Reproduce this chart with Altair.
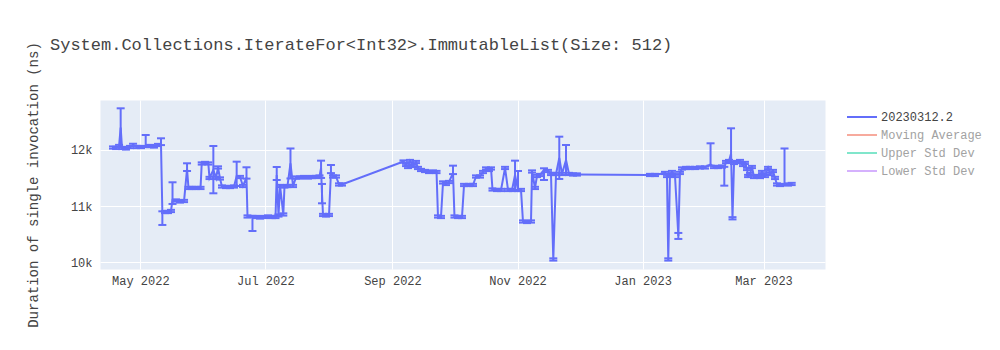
import altair as alt
import pandas as pd

# ---------------- data ----------------
dates_a = ["2022-04-17T16:00","2022-04-19T04:00","2022-04-20T15:00","2022-04-21T10:00","2022-04-22T02:00",
           "2022-04-24T00:00","2022-04-25T23:00","2022-04-27T11:00","2022-04-29T09:00","2022-05-01T08:00",
           "2022-05-03T15:00","2022-05-05T18:00","2022-05-07T16:00","2022-05-09T15:00","2022-05-11T02:00",
           "2022-05-11T18:00","2022-05-13T01:00","2022-05-14T12:00","2022-05-15T23:00"]
values_a = [12044,12036,12071,12397,12036,12027,12053,12089,12053,12053,12071,12071,12062,12089,12107,
            10888,10896,10896,10914]
up_a = [20,20,20,345,20,20,20,20,20,20,196,20,20,20,101,20,20,20,20]
down_a = [20,20,20,344,20,20,20,20,20,20,20,20,20,20,20,223,20,20,20]

dates_b = ["2022-05-16T17:00","2022-05-18T10:00","2022-05-20T09:00","2022-05-22T08:00","2022-05-23T19:00",
           "2022-05-24T12:00","2022-05-26T05:00","2022-05-28T04:00","2022-05-30T09:00","2022-05-30T23:00",
           "2022-06-01T13:00","2022-06-03T04:00","2022-06-03T18:00","2022-06-05T15:00","2022-06-06T22:00",
           "2022-06-07T22:00","2022-06-08T21:00","2022-06-09T20:00","2022-06-11T19:00","2022-06-13T18:00",
           "2022-06-15T17:00","2022-06-17T00:00","2022-06-18T15:00","2022-06-20T02:00","2022-06-21T19:00",
           "2022-06-22T07:00","2022-06-24T17:00"]
values_b = [11110,11101,11083,11092,11662,11324,11324,11324,11324,11760,11769,11760,11502,11644,11502,
            11689,11493,11350,11341,11341,11350,11537,11519,11359,11510,10816,10807]
up_b = [315,20,20,20,101,20,20,20,20,20,20,20,20,427,20,20,20,20,20,20,20,255,20,20,182,20,20]
down_b = [71,20,20,20,36,20,20,20,20,20,20,20,20,415,20,20,20,20,20,20,20,178,20,20,20,20,249]

dates_c = ["2022-06-26T11:00","2022-06-28T09:00","2022-06-30T08:00","2022-07-02T07:00","2022-07-04T06:00",
           "2022-07-05T23:00","2022-07-06T13:00","2022-07-07T10:00","2022-07-08T04:00","2022-07-09T18:00",
           "2022-07-10T08:00","2022-07-11T19:00","2022-07-13T06:00","2022-07-14T12:00","2022-07-15T23:00",
           "2022-07-17T22:00","2022-07-19T20:00","2022-07-21T19:00","2022-07-23T18:00","2022-07-25T17:00",
           "2022-07-27T10:00","2022-07-28T04:00","2022-07-28T15:00","2022-07-29T03:00","2022-07-30T14:00",
           "2022-08-01T01:00","2022-08-02T00:00","2022-08-03T00:00","2022-08-04T11:00","2022-08-05T22:00",
           "2022-08-07T09:00"]
values_c = [10807,10798,10807,10816,10807,10807,11555,10834,11359,10852,11350,11359,11760,11359,11510,
            11510,11519,11510,11519,11519,11528,11680,11222,10843,10834,10843,11608,11528,11528,11386,11386]
up_c = [20,20,20,20,20,20,142,20,20,20,20,20,267,20,20,20,20,20,20,20,20,130,173,20,20,20,125,20,20,20,20]
down_c = [20,20,20,20,20,20,89,20,20,20,20,20,267,20,20,20,20,20,20,20,20,178,171,20,20,20,20,20,20,20,20]

dates_d = ["2022-09-06T09:00","2022-09-07T15:00","2022-09-08T14:00","2022-09-09T13:00","2022-09-11T00:00",
           "2022-09-12T12:00","2022-09-13T11:00","2022-09-14T22:00","2022-09-16T21:00","2022-09-18T20:00",
           "2022-09-20T19:00","2022-09-22T12:00","2022-09-23T05:00","2022-09-24T16:00","2022-09-25T16:00",
           "2022-09-27T03:00","2022-09-28T14:00","2022-09-30T13:00","2022-10-01T06:00","2022-10-02T23:00",
           "2022-10-04T22:00","2022-10-05T22:00","2022-10-08T08:00","2022-10-10T07:00","2022-10-11T18:00",
           "2022-10-13T17:00","2022-10-15T04:00","2022-10-16T15:00","2022-10-18T02:00","2022-10-19T02:00",
           "2022-10-19T19:00","2022-10-22T00:00","2022-10-23T23:00","2022-10-25T22:00","2022-10-27T09:00",
           "2022-10-29T08:00","2022-10-30T19:00","2022-11-01T06:00","2022-11-02T17:00","2022-11-03T16:00",
           "2022-11-05T15:00","2022-11-07T14:00","2022-11-08T02:00","2022-11-09T13:00","2022-11-10T12:00",
           "2022-11-11T23:00","2022-11-13T22:00","2022-11-15T21:00","2022-11-17T08:00","2022-11-18T11:00",
           "2022-11-19T19:00","2022-11-21T09:00","2022-11-22T17:00","2022-11-24T16:00","2022-11-26T03:00",
           "2022-11-28T02:00","2022-11-30T00:00"]
values_d = [11795,11733,11697,11804,11715,11786,11680,11644,11626,11608,11617,11608,10816,10807,11422,
            11395,11430,11591,10816,10807,10807,11377,11377,11377,11528,11528,11608,11671,11644,11671,
            11297,11288,11288,11680,11288,11288,11555,11288,11288,10727,10718,10727,11617,11324,11537,
            11555,11644,11626,11573,10051,11573,11858,11573,11822,11573,11564,11564]
up_d = [20,20,20,20,20,20,20,20,20,20,20,20,20,20,20,20,20,130,20,20,
        20,20,20,20,20,20,20,20,20,20,20,20,20,20,20,20,255,338,20,20,
        20,20,20,20,20,20,30,20,20,20,20,379,20,267,20,20,20]
down_d = [20,20,20,20,20,20,20,20,20,20,20,20,20,20,20,20,20,20,20,20,
          20,20,20,20,20,20,20,20,20,20,20,20,20,20,20,20,267,20,20,20,
          20,20,20,20,20,20,178,20,20,20,20,374,20,267,20,20,20]

dates_e = ["2023-01-04T15:00","2023-01-07T02:00","2023-01-11T23:00","2023-01-12T22:00","2023-01-13T13:00",
           "2023-01-14T09:00","2023-01-15T09:00","2023-01-16T20:00","2023-01-18T11:00","2023-01-19T06:00",
           "2023-01-20T06:00","2023-01-22T05:00","2023-01-24T04:00","2023-01-26T14:00","2023-01-29T00:00",
           "2023-01-31T11:00","2023-02-03T04:00","2023-02-04T20:00","2023-02-06T19:00","2023-02-08T18:00",
           "2023-02-09T21:00","2023-02-10T17:00","2023-02-12T04:00","2023-02-13T04:00","2023-02-13T21:00",
           "2023-02-14T15:00","2023-02-16T02:00","2023-02-17T13:00","2023-02-19T00:00","2023-02-19T23:00",
           "2023-02-20T23:00","2023-02-21T11:00","2023-02-22T10:00","2023-02-23T09:00","2023-02-24T09:00",
           "2023-02-25T20:00","2023-02-27T07:00","2023-02-28T06:00","2023-03-01T18:00","2023-03-03T05:00",
           "2023-03-04T04:00","2023-03-05T15:00","2023-03-06T15:00","2023-03-07T14:00","2023-03-09T01:00",
           "2023-03-11T06:00","2023-03-12T23:00","2023-03-14T18:00"]
values_e = [11555,11555,11591,11537,10051,11555,11608,11537,10469,11591,11671,11680,11680,11680,11689,
            11689,11742,11697,11697,11706,11680,11786,11804,11938,10784,11769,11786,11804,11733,11769,
            11662,11537,11573,11697,11519,11537,11519,11608,11537,11680,11573,11626,11502,11386,11377,
            11395,11386,11395]
up_e = [20,20,20,20,20,20,20,20,54,20,20,20,20,20,20,20,377,20,20,20,
        20,20,20,448,20,20,20,20,20,20,20,20,20,20,20,20,20,20,20,20,
        20,20,20,20,20,632,20,20]
down_e = [20,20,20,20,20,20,20,20,53,20,20,20,20,20,20,20,20,20,20,20,
          315,20,20,152,20,20,20,20,20,20,20,20,20,20,20,20,20,20,20,20,
          20,20,20,20,20,20,20,20]

series_names = ["20230312.2", "Moving Average", "Upper Std Dev", "Lower Std Dev"]
series_colors = ["#636efa", "#f7aa9d", "#80e6cb", "#d5b1fd"]
x_tick_dates = [(2022, 5), (2022, 7), (2022, 9), (2022, 11), (2023, 1), (2023, 3)]
y_ticks = [10000, 11000, 12000]
title_text = "System.Collections.IterateFor<Int32>.ImmutableList(Size: 512)"
y_title = "Duration of single invocation (ns)"

# ---------------- table ----------------
dates = dates_a + dates_b + dates_c + dates_d + dates_e
values = values_a + values_b + values_c + values_d + values_e
ups = up_a + up_b + up_c + up_d + up_e
downs = down_a + down_b + down_c + down_d + down_e
df = pd.DataFrame({
    "date": dates,
    "value": values,
    "hi": [v + u for v, u in zip(values, ups)],
    "lo": [v - d for v, d in zip(values, downs)],
    "series": [series_names[0]] * len(dates),
})

FONT = "Liberation Mono"
TXT = "#444444"
LINE = "#636efa"

x_scale = alt.Scale(domain=[alt.DateTime(year=2022, month=4, date=11, hours=8),
                            alt.DateTime(year=2023, month=3, date=31)], nice=False)
x_axis = alt.Axis(values=[alt.DateTime(year=y, month=m, date=1) for y, m in x_tick_dates],
                  format="%b %Y", labelFont=FONT, labelFontSize=12, labelColor=TXT,
                  grid=True, gridColor="white", gridWidth=1, domain=False, ticks=False,
                  labelPadding=6, labelFlush=False)
y_scale = alt.Scale(domain=[9881, 12890], nice=False, zero=False)
y_axis = alt.Axis(values=y_ticks, labelExpr="datum.value / 1000 + 'k'", labelFont=FONT,
                  labelFontSize=12, labelColor=TXT, grid=True, gridColor="white", gridWidth=1,
                  domain=False, ticks=False, labelPadding=8,
                  titleFont=FONT, titleFontSize=14, titleColor=TXT, titleFontWeight="normal",
                  titleX=-67, titleY=84.5, titleAlign="center", titleBaseline="middle", titleAngle=270)


def xe():
    return alt.X("date:T", title=None, scale=x_scale, axis=x_axis)


def ye(field):
    return alt.Y(f"{field}:Q", title=y_title, scale=y_scale, axis=y_axis)


base = alt.Chart(df)

line = base.mark_line(strokeWidth=2).encode(
    x=xe(), y=ye("value"),
    color=alt.Color("series:N",
                    scale=alt.Scale(domain=series_names, range=series_colors),
                    legend=alt.Legend(title=None, orient="none", legendX=756, legendY=11,
                                      symbolType="M-3,0H3", symbolSize=100, symbolStrokeWidth=2,
                                      labelFont=FONT, labelFontSize=12,
                                      labelColor=alt.ExprRef(expr="datum.label == '20230312.2' ? '#444444' : '#a2a2a2'"),
                                      labelOffset=13, rowPadding=6)),
)
bars = base.mark_rule(strokeWidth=2, color=LINE).encode(x=xe(), y=ye("lo"), y2=alt.Y2("hi"))
cap_hi = base.mark_tick(orient="horizontal", size=8, thickness=2, color=LINE, opacity=1).encode(x=xe(), y=ye("hi"))
cap_lo = base.mark_tick(orient="horizontal", size=8, thickness=2, color=LINE, opacity=1).encode(x=xe(), y=ye("lo"))

chart = alt.layer(bars, cap_hi, cap_lo, line).properties(
    width=725, height=169,
    autosize=alt.AutoSizeParams(type="none"),
    padding={"left": 100, "top": 100, "right": 175, "bottom": 81},
    title=alt.TitleParams(text=title_text, anchor="start", frame="group", dx=-50, offset=0, dy=25,
                          baseline="alphabetic", font=FONT, fontSize=17, color=TXT,
                          fontWeight="normal"),
    background="white",
).configure_view(fill="#E5ECF6", stroke="transparent")

chart.save("out.html", embed_options={"renderer": "svg", "actions": False})
